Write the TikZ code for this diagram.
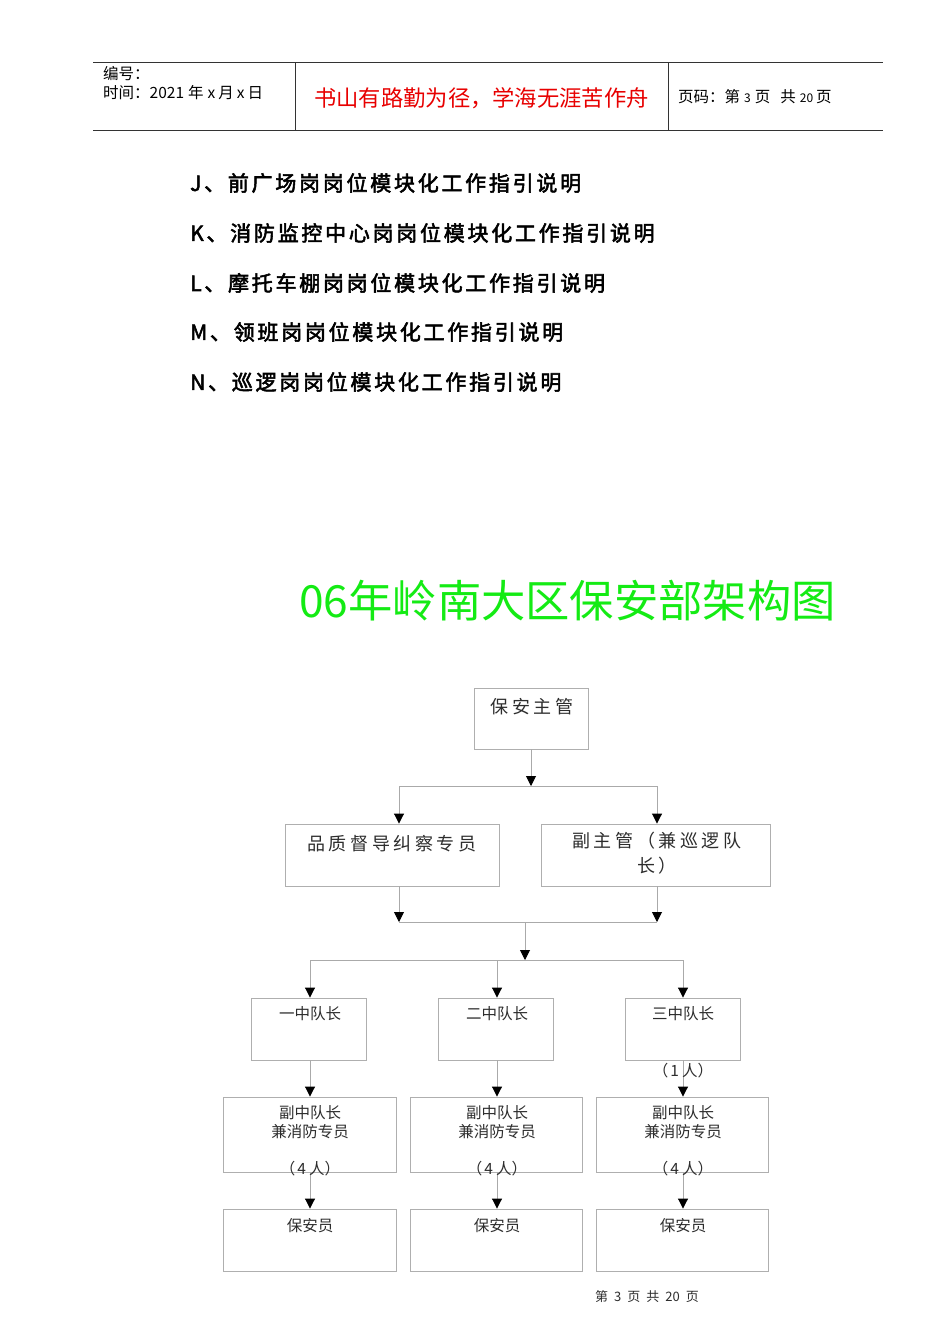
\documentclass[tikz,border=0pt]{standalone}
\usepackage{fontspec}
\setmainfont{Noto Sans CJK SC}
\newfontfamily\cjk{Noto Sans CJK SC}
\newfontfamily\cjkbold[FakeBold=2.5]{Noto Sans CJK SC}
\usetikzlibrary{arrows.meta}
\definecolor{boxgray}{RGB}{175,175,175}
\definecolor{linegray}{RGB}{170,170,170}
\definecolor{titlegreen}{RGB}{20,235,20}
\definecolor{headred}{RGB}{232,0,0}
\definecolor{txt}{RGB}{45,45,45}
\tikzset{
  box/.style={draw=boxgray, line width=0.9pt, inner sep=0pt, fill=white},
  conn/.style={draw=linegray, line width=0.9pt},
  arr/.style={conn, -{Triangle[width=10pt,length=10pt,color=black]}, shorten >=0pt},
  bigtxt/.style={font=\cjk\fontsize{18}{25}\selectfont\addfontfeature{LetterSpace=20}, text=txt, align=center, inner sep=0pt},
  smtxt/.style={font=\cjk\fontsize{15.5}{19}\selectfont, text=txt, align=center, inner sep=0pt},
  listtxt/.style={font=\cjkbold\fontsize{21}{21}\selectfont\addfontfeature{LetterSpace=13}, anchor=west, inner sep=0pt, text=black},
  hdtxt/.style={font=\cjk\fontsize{15.5}{19}\selectfont, anchor=west, inner sep=0pt, text=black},
}
\begin{document}
\begin{tikzpicture}[x=1pt,y=-1pt]
\useasboundingbox[fill=white] (0,0) rectangle (950,1344);

% header
\draw[line width=1pt, black!80] (93,62) -- (883,62);
\draw[line width=1pt, black!80] (93,130) -- (883,130);
\draw[line width=1pt, black!80] (295,62) -- (295,130);
\draw[line width=1pt, black!80] (668,62) -- (668,130);
\node[hdtxt] (hnum) at (103,74) {编号：};
\node[hdtxt] (htime) at (103,93) {时间：2021\hspace{4pt}年\hspace{4pt}x\hspace{3pt}月\hspace{3pt}x\hspace{3pt}日};
\node[font=\cjk\fontsize{22.3}{22}\selectfont, text=headred, inner sep=0pt] (hmotto) at (481.5,98) {书山有路勤为径，学海无涯苦作舟};
\node[hdtxt] (hpage) at (678,97) {页码：第\hspace{4pt}{\fontsize{12}{12}\selectfont 3}\hspace{4pt}页\hspace{10pt}共\hspace{4pt}{\fontsize{12}{12}\selectfont 20}\hspace{3pt}页};

% list
\node[listtxt] (lj) at (190,183) {J、前广场岗岗位模块化工作指引说明};
\node[listtxt] (lk) at (190,233) {K、消防监控中心岗岗位模块化工作指引说明};
\node[listtxt] (ll) at (190,283) {L、摩托车棚岗岗位模块化工作指引说明};
\node[listtxt] (lm) at (190,332) {M、领班岗岗位模块化工作指引说明};
\node[listtxt] (ln) at (190,382) {N、巡逻岗岗位模块化工作指引说明};

% title
\node[font=\cjk\fontsize{44.3}{44}\selectfont, text=titlegreen, inner sep=0pt] (title) at (567.5,601) {06年岭南大区保安部架构图};

% boxes
\node[box, minimum width=114pt, minimum height=61pt] (zg) at (531,718.5) {};
\node[box, minimum width=214pt, minimum height=62pt] (pz) at (392,855) {};
\node[box, minimum width=229pt, minimum height=62pt] (fz) at (655.5,855) {};
\node[box, minimum width=115pt, minimum height=62pt] (d1) at (308.5,1029) {};
\node[box, minimum width=115pt, minimum height=62pt] (d2) at (495.5,1029) {};
\node[box, minimum width=115pt, minimum height=62pt] (d3) at (682.5,1029) {};
\node[box, minimum width=173pt, minimum height=75pt] (f1) at (309.5,1134.5) {};
\node[box, minimum width=172pt, minimum height=75pt] (f2) at (496,1134.5) {};
\node[box, minimum width=172pt, minimum height=75pt] (f3) at (682,1134.5) {};
\node[box, minimum width=173pt, minimum height=62pt] (b1) at (309.5,1240) {};
\node[box, minimum width=172pt, minimum height=62pt] (b2) at (496,1240) {};
\node[box, minimum width=172pt, minimum height=62pt] (b3) at (682,1240) {};

% junction coordinates
\coordinate (j1) at (531,786);
\coordinate (j1l) at (399,786);
\coordinate (j1r) at (657,786);
\coordinate (j2l) at (399,922);
\coordinate (j2r) at (657,922);
\coordinate (j2) at (525,922);
\coordinate (j3) at (525,960);
\coordinate (j3a) at (310,960);
\coordinate (j3b) at (497,960);
\coordinate (j3c) at (683,960);

% connectors
\draw[arr] (zg.south) -- (j1);
\draw[conn] (j1l) -- (j1r);
\draw[arr] (j1l) -- (j1l |- pz.north);
\draw[arr] (j1r) -- (j1r |- fz.north);
\draw[arr] (pz.south -| j2l) -- (j2l);
\draw[arr] (fz.south -| j2r) -- (j2r);
\draw[conn] (j2l) -- (j2r);
\draw[arr] (j2) -- (j3);
\draw[conn] (j3a) -- (j3c);
\draw[arr] (j3a) -- (j3a |- d1.north);
\draw[arr] (j3b) -- (j3b |- d2.north);
\draw[arr] (j3c) -- (j3c |- d3.north);
\draw[arr] (d1.south -| j3a) -- (f1.north -| j3a);
\draw[arr] (d2.south -| j3b) -- (f2.north -| j3b);
\draw[arr] (d3.south -| j3c) -- (f3.north -| j3c);
\draw[arr] (f1.south -| j3a) -- (b1.north -| j3a);
\draw[arr] (f2.south -| j3b) -- (b2.north -| j3b);
\draw[arr] (f3.south -| j3c) -- (b3.north -| j3c);

% box texts
\node[bigtxt] (tzg) at (532,707) {保安主管};
\node[bigtxt] (tpz) at (392,844) {品质督导纠察专员};
\node[bigtxt, anchor=north] (tfz) at (657,832) {副主管（兼巡逻队\\长）};
\node[smtxt] (td1) at (310,1014) {一中队长};
\node[smtxt] (td2) at (497,1014) {二中队长};
\node[smtxt] (td3) at (683,1014) {三中队长};
\node[smtxt] (tn3) at (683,1071) {（\hspace{2pt}1\hspace{3pt}人）};
\node[smtxt] (tf1) at (310,1122.5) {副中队长\\兼消防专员};
\node[smtxt] (tf2) at (497,1122.5) {副中队长\\兼消防专员};
\node[smtxt] (tf3) at (683,1122.5) {副中队长\\兼消防专员};
\node[smtxt] (tc1) at (310,1169) {（\hspace{2pt}4\hspace{3pt}人）};
\node[smtxt] (tc2) at (497,1169) {（\hspace{2pt}4\hspace{3pt}人）};
\node[smtxt] (tc3) at (683,1169) {（\hspace{2pt}4\hspace{3pt}人）};
\node[smtxt] (tb1) at (310,1226) {保安员};
\node[smtxt] (tb2) at (497,1226) {保安员};
\node[smtxt] (tb3) at (683,1226) {保安员};

% footer
\node[font=\cjk\fontsize{13}{13}\selectfont, text=txt, inner sep=0pt] (foot) at (647,1297) {第\hspace{6pt}3\hspace{6pt}页\hspace{6pt}共\hspace{6pt}20\hspace{6pt}页};
\end{tikzpicture}
\end{document}
